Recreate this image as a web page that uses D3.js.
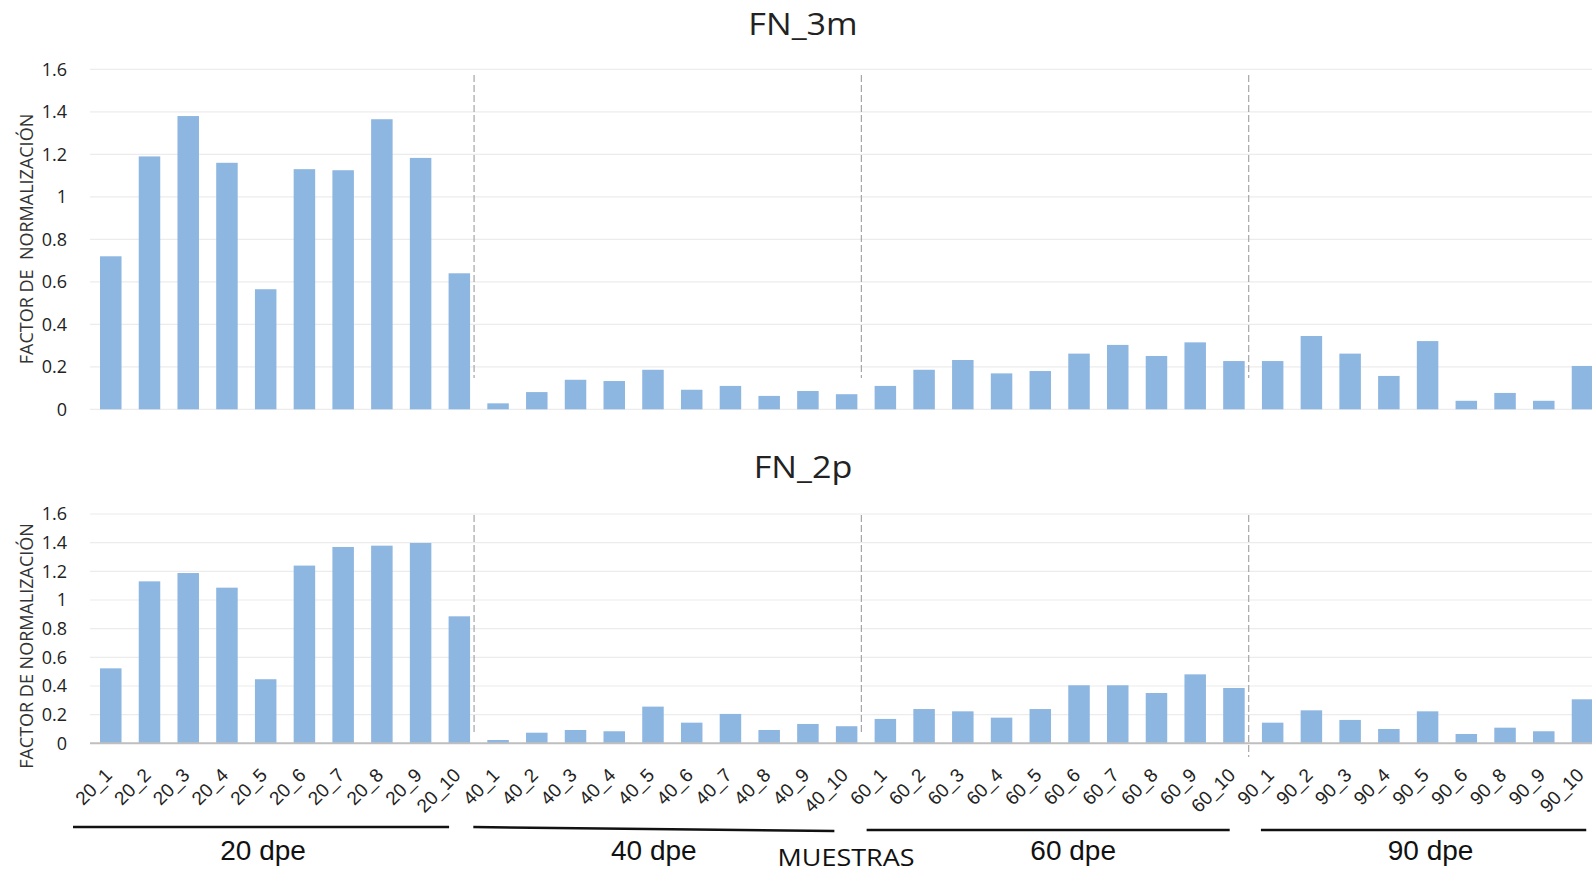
<!DOCTYPE html>
<html>
<head>
<meta charset="utf-8">
<script src="https://cdn.jsdelivr.net/npm/d3@7"></script>
<style>
  html, body { margin: 0; padding: 0; background: #fff; overflow: hidden; }
  svg { display: block; }
</style>
</head>
<body>
<svg id="chart" width="1592" height="874"></svg>
<script>
// ---------- DATA ----------
const categories = [
  "20_1","20_2","20_3","20_4","20_5","20_6","20_7","20_8","20_9","20_10",
  "40_1","40_2","40_3","40_4","40_5","40_6","40_7","40_8","40_9","40_10",
  "60_1","60_2","60_3","60_4","60_5","60_6","60_7","60_8","60_9","60_10",
  "90_1","90_2","90_3","90_4","90_5","90_6","90_8","90_9","90_10"
];
const fn3m = [
  0.72, 1.19, 1.38, 1.16, 0.565, 1.13, 1.125, 1.365, 1.183, 0.64,
  0.028, 0.081, 0.139, 0.133, 0.186, 0.092, 0.11, 0.063, 0.086, 0.071,
  0.11, 0.186, 0.232, 0.169, 0.18, 0.262, 0.303, 0.251, 0.315, 0.227,
  0.227, 0.345, 0.262, 0.157, 0.321, 0.04, 0.077, 0.04, 0.204
];
const fn2p = [
  0.523, 1.13, 1.188, 1.086, 0.447, 1.24, 1.37, 1.379, 1.398, 0.886,
  0.023, 0.074, 0.093, 0.084, 0.256, 0.144, 0.205, 0.093, 0.135, 0.119,
  0.17, 0.239, 0.223, 0.179, 0.239, 0.405, 0.405, 0.351, 0.481, 0.386,
  0.144, 0.23, 0.163, 0.1, 0.223, 0.065, 0.109, 0.084, 0.307
];
const yTicks = [0, 0.2, 0.4, 0.6, 0.8, 1, 1.2, 1.4, 1.6];
const yTickLabels = ["0", "0.2", "0.4", "0.6", "0.8", "1", "1.2", "1.4", "1.6"];
const groupNames = ["20 dpe", "40 dpe", "60 dpe", "90 dpe"];
const groupFirst = ["20_1", "40_1", "60_1", "90_1"];
const groupLast = ["20_10", "40_10", "60_10", "90_10"];
const titles = ["FN_3m", "FN_2p"];
const yTitles = ["FACTOR DE\u00A0\u00A0NORMALIZACIÓN", "FACTOR DE NORMALIZACIÓN"];
const xTitle = "MUESTRAS";

// ---------- LAYOUT ----------
const svg = d3.select("#chart");
const BAR = "#8db6e1";
const GRID = "#ececec";
const plotLeft = 91.4, step = 38.73;
const x = d3.scaleBand()
  .domain(categories)
  .range([plotLeft, plotLeft + categories.length * step])
  .paddingInner(0.445)
  .paddingOuter(0.2225);
const bw = x.bandwidth();

const panels = [
  { values: fn3m, y0: 409.3, y1: 69.3, titleY: 35, dashTop: 75, dashBot: [378, 378, 378], axisLine: false, labels: false, yTitleCy: 239, yTitleX: 33 },
  { values: fn2p, y0: 743.3, y1: 514, titleY: 478, dashTop: 515, dashBot: [733, 733, 757], axisLine: true, labels: true, yTitleCy: 646, yTitleX: 33 }
];

panels.forEach((p, pi) => {
  const y = d3.scaleLinear().domain([0, 1.6]).range([p.y0, p.y1]);
  const g = svg.append("g");

  // gridlines
  g.append("g").selectAll("line").data(yTicks).join("line")
    .attr("x1", 90).attr("x2", 1600)
    .attr("y1", d => y(d)).attr("y2", d => y(d))
    .attr("stroke", GRID).attr("stroke-width", 1.2);

  // y tick labels
  g.append("g").selectAll("text").data(yTicks).join("text")
    .attr("x", 67).attr("y", d => y(d))
    .attr("dy", "0.36em")
    .attr("text-anchor", "end")
    .attr("font-family", "Open Sans, sans-serif")
    .attr("font-size", 18)
    .attr("fill", "#222")
    .text((d, i) => yTickLabels[i]);

  // bars
  g.append("g").selectAll("rect").data(categories).join("rect")
    .attr("x", d => x(d))
    .attr("width", bw)
    .attr("y", (d, i) => y(p.values[i]))
    .attr("height", (d, i) => y(0) - y(p.values[i]))
    .attr("fill", BAR);

  // axis line
  if (p.axisLine) {
    g.append("line")
      .attr("x1", 90).attr("x2", 1600)
      .attr("y1", y(0)).attr("y2", y(0))
      .attr("stroke", "#bfbfbf").attr("stroke-width", 2);
  }

  // dashed separators
  groupLast.slice(0, 3).forEach((c, k) => {
    const xx = x(c) + bw + 4;
    g.append("line")
      .attr("x1", xx).attr("x2", xx)
      .attr("y1", p.dashTop).attr("y2", p.dashBot[k])
      .attr("stroke", "#a6a6a6").attr("stroke-width", 1.2)
      .attr("stroke-dasharray", "7,3");
  });

  // title
  g.append("text")
    .attr("transform", `translate(803,${p.titleY}) scale(1.1,1)`)
    .attr("text-anchor", "middle")
    .attr("font-family", "Open Sans, sans-serif")
    .attr("font-size", 31)
    .attr("fill", "#222")
    .text(titles[pi]);

  // y title
  g.append("text")
    .attr("transform", `translate(${p.yTitleX},${p.yTitleCy}) rotate(-90)`)
    .attr("text-anchor", "middle")
    .attr("font-family", "Open Sans, sans-serif")
    .attr("font-size", 18)
    .attr("fill", "#333")
    .text(yTitles[pi]);

  // x labels
  if (p.labels) {
    g.append("g").selectAll("text").data(categories).join("text")
      .attr("transform", d => `translate(${x(d) + bw / 2 + 2.5},${y(0) + 33}) rotate(-45)`)
      .attr("text-anchor", "end")
      .attr("font-family", "Liberation Sans, Arial, sans-serif")
      .attr("font-size", 19)
      .attr("fill", "#222")
      .text(d => d);
  }
});

// group brackets and labels
const bracketOffsets = [[-27, -21, 827, 827], [-14, -23, 827, 831], [-8, -15, 830, 830], [-1, -7, 830, 830]];
const labelShift = [2, 0, 25, 7];
groupNames.forEach((name, k) => {
  const xa = x(groupFirst[k]) + bracketOffsets[k][0];
  const xb = x(groupLast[k]) + bw + bracketOffsets[k][1];
  svg.append("line")
    .attr("x1", xa).attr("x2", xb)
    .attr("y1", bracketOffsets[k][2]).attr("y2", bracketOffsets[k][3])
    .attr("stroke", "#111").attr("stroke-width", 2.5);
  svg.append("text")
    .attr("x", (xa + xb) / 2 + labelShift[k]).attr("y", 860)
    .attr("text-anchor", "middle")
    .attr("font-family", "Liberation Sans, Arial, sans-serif")
    .attr("font-size", 28)
    .attr("fill", "#111")
    .text(name);
});

svg.append("text")
  .attr("transform", "translate(846,866) scale(1.1,1)")
  .attr("text-anchor", "middle")
  .attr("font-family", "Open Sans, sans-serif")
  .attr("font-size", 24.5)
  .attr("fill", "#111")
  .text(xTitle);
</script>
</body>
</html>
